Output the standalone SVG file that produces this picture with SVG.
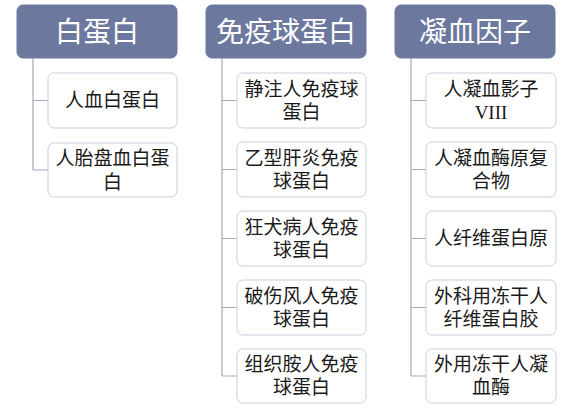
<svg xmlns="http://www.w3.org/2000/svg" width="586" height="412" viewBox="0 0 586 412">
<style>
.hd rect{fill:#6c789e;stroke:#6c789e;stroke-width:1}
.hd text{fill:#ffffff;font-family:"Liberation Serif","Noto Sans CJK SC",serif;font-size:28px;text-anchor:middle;dominant-baseline:central}
.bx rect{fill:#ffffff;stroke:#c9cfdb;stroke-width:1}
.bx text{fill:#1a1a1a;font-family:"Liberation Serif","Noto Sans CJK SC",serif;font-size:19px;text-anchor:middle;dominant-baseline:central}
#connectors path{fill:none;stroke:#a3aabb;stroke-width:1.2}
</style>
<rect width="586" height="412" fill="#ffffff"/>
<g id="connectors">
<path d="M33,58 V170 M33,100.5 H48 M33,170 H48"/>
<path d="M222,58 V376 M222,100.5 H237 M222,169.5 H237 M222,238.5 H237 M222,307.5 H237 M222,376 H237"/>
<path d="M411,58 V376 M411,100.5 H426 M411,169.5 H426 M411,238.5 H426 M411,307.5 H426 M411,376 H426"/>
</g>
<g id="h1" class="hd"><rect x="17" y="5" width="160" height="53" rx="6"/><text x="97" y="32">白蛋白</text></g>
<g id="h2" class="hd"><rect x="206" y="5" width="160" height="53" rx="6"/><text x="286" y="32">免疫球蛋白</text></g>
<g id="h3" class="hd"><rect x="395" y="5" width="160" height="53" rx="6"/><text x="475" y="32">凝血因子</text></g>

<g id="c1a" class="bx"><rect x="48" y="73" width="129" height="55" rx="6"/><text x="112.5" y="100.5">人血白蛋白</text></g>
<g id="c1b" class="bx"><rect x="48" y="143" width="129" height="54" rx="6"/><text x="112.5" y="158">人胎盘血白蛋</text><text x="112.5" y="182">白</text></g>

<g id="c2a" class="bx"><rect x="237" y="73" width="129" height="55" rx="6"/><text x="301.5" y="89">静注人免疫球</text><text x="301.5" y="112">蛋白</text></g>
<g id="c2b" class="bx"><rect x="237" y="142" width="129" height="55" rx="6"/><text x="301.5" y="158">乙型肝炎免疫</text><text x="301.5" y="181">球蛋白</text></g>
<g id="c2c" class="bx"><rect x="237" y="211" width="129" height="55" rx="6"/><text x="301.5" y="227">狂犬病人免疫</text><text x="301.5" y="250">球蛋白</text></g>
<g id="c2d" class="bx"><rect x="237" y="280" width="129" height="55" rx="6"/><text x="301.5" y="296">破伤风人免疫</text><text x="301.5" y="319">球蛋白</text></g>
<g id="c2e" class="bx"><rect x="237" y="349" width="129" height="54" rx="6"/><text x="301.5" y="364">组织胺人免疫</text><text x="301.5" y="387">球蛋白</text></g>

<g id="c3a" class="bx"><rect x="426" y="73" width="130" height="55" rx="6"/><text x="491" y="89">人凝血影子</text><text x="491" y="112">VIII</text></g>
<g id="c3b" class="bx"><rect x="426" y="142" width="130" height="55" rx="6"/><text x="491" y="158">人凝血酶原复</text><text x="491" y="181">合物</text></g>
<g id="c3c" class="bx"><rect x="426" y="211" width="130" height="55" rx="6"/><text x="491" y="238.5">人纤维蛋白原</text></g>
<g id="c3d" class="bx"><rect x="426" y="280" width="130" height="55" rx="6"/><text x="491" y="296">外科用冻干人</text><text x="491" y="319">纤维蛋白胶</text></g>
<g id="c3e" class="bx"><rect x="426" y="349" width="130" height="54" rx="6"/><text x="491" y="364">外用冻干人凝</text><text x="491" y="387">血酶</text></g>
</svg>
